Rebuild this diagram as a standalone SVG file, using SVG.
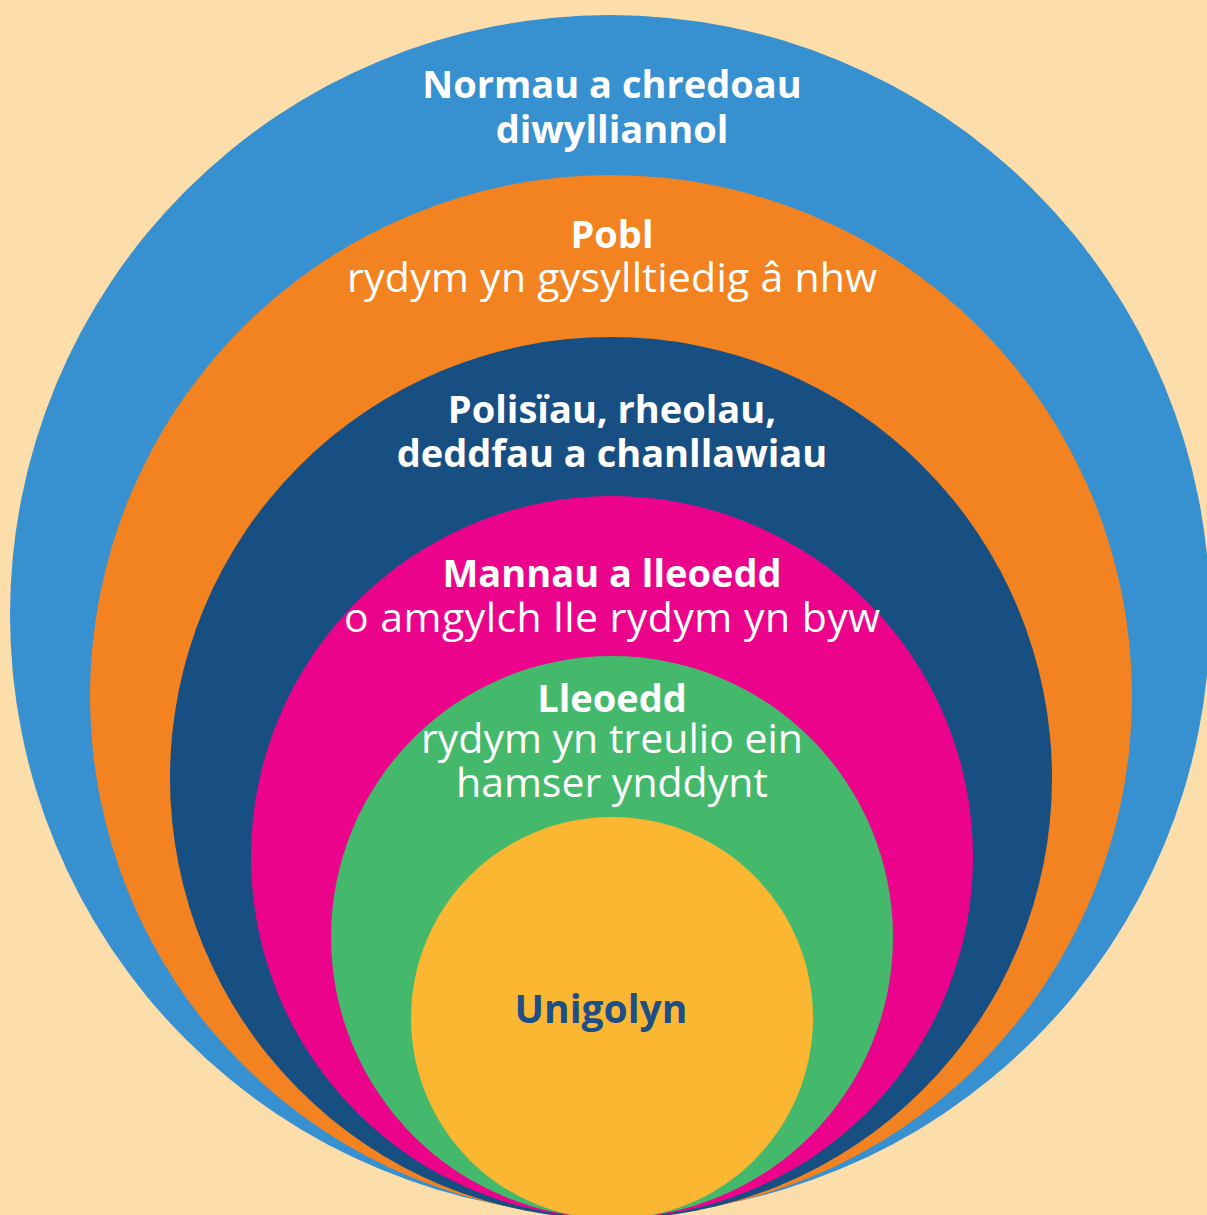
<svg xmlns="http://www.w3.org/2000/svg" width="1207" height="1215" viewBox="0 0 1207 1215">
  <style>
    .lbl { font-family: "Open Sans", "Noto Sans", "Liberation Sans", sans-serif; fill: #ffffff; text-anchor: middle; }
    .b { font-weight: 700; font-size: 38px; }
    .r { font-weight: 400; font-size: 41px; }
    .core { fill: #1d4f86; font-size: 39px; }
  </style>
  <rect x="0" y="0" width="1207" height="1215" fill="#fddeab"/>

  <!-- Nested rings, all touching at the bottom edge -->
  <g id="ring-culture">
    <circle cx="610" cy="615" r="600" fill="#3790cf"/>
    <text class="lbl b" x="612" y="98">Normau a chredoau</text>
    <text class="lbl b" x="612" y="143">diwylliannol</text>
  </g>
  <g id="ring-people">
    <circle cx="611" cy="696" r="521" fill="#f38321"/>
    <text class="lbl b" x="612" y="248">Pobl</text>
    <text class="lbl r" x="612" y="292" textLength="530" lengthAdjust="spacing">rydym yn gysylltiedig â nhw</text>
  </g>
  <g id="ring-policy">
    <circle cx="611" cy="778" r="441" fill="#174f83"/>
    <text class="lbl b" x="612" y="423">Polisïau, rheolau,</text>
    <text class="lbl b" x="612" y="467">deddfau a chanllawiau</text>
  </g>
  <g id="ring-spaces">
    <circle cx="612" cy="857" r="361" fill="#ec038c"/>
    <text class="lbl b" x="612" y="587">Mannau a lleoedd</text>
    <text class="lbl r" x="612" y="632" textLength="536" lengthAdjust="spacing">o amgylch lle rydym yn byw</text>
  </g>
  <g id="ring-places">
    <circle cx="612" cy="937" r="281" fill="#45b96b"/>
    <text class="lbl b" x="612" y="712">Lleoedd</text>
    <text class="lbl r" x="612" y="753">rydym yn treulio ein</text>
    <text class="lbl r" x="612" y="797">hamser ynddynt</text>
  </g>
  <g id="ring-individual">
    <circle cx="612" cy="1018" r="201" fill="#fbb731"/>
    <text class="lbl b core" x="601" y="1023">Unigolyn</text>
  </g>

  <g id="connectors"/>
</svg>
